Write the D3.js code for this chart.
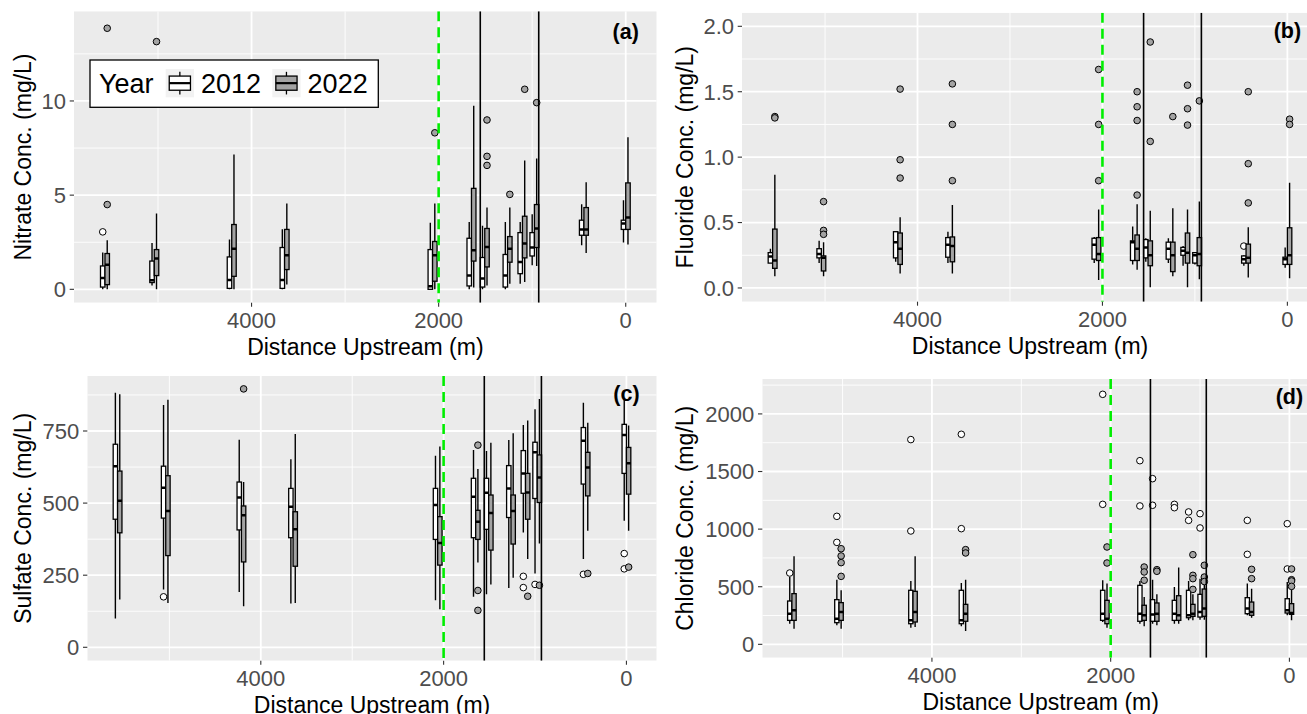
<!DOCTYPE html>
<html lang="en">
<head>
<meta charset="UTF-8">
<title>Upstream concentrations 2012 vs 2022</title>
<script src="https://d3js.org/d3.v7.min.js"></script>
<style>
  body { margin: 0; background: #fff; }
  svg { display: block; font-family: "Liberation Sans", Arial, Helvetica, sans-serif; }
</style>
</head>
<body>
<svg id="chart" width="1307" height="714"></svg>
<script>
// sampling sites (distance upstream, m) and years
const sites = [5567, 5040, 4212, 3647, 2065, 1649, 1507, 1263, 1104, 976, 447, 0];
const years = ["2012", "2022"];
const dodgeWidth = 96;            // total dodge width in metres
const refLines = [1555, 930];     // black vertical lines
const greenLine = 2000;           // dashed green line
const xTicks = [4000, 2000, 0];

// box stats per site: [lower whisker, q1, median, q3, upper whisker]
const nitrate2012 = [[0,0.12,0.6,1.24,1.95],[0.2,0.36,0.48,1.5,2.46],[0,0.05,0.5,1.72,2.64],[0,0.05,0.5,2.22,3.19],
  [0,0,0.16,2.11,3.53],[0,0.18,0.73,2.71,3.58],[0,0.12,0.57,1.69,3.37],[0,0.12,0.73,1.85,3.58],
  [0.3,0.83,1.45,3.01,3.58],[1.28,1.77,2.22,3.01,3.99],[2.34,2.87,3.18,3.67,4.52],[2.48,3.18,3.49,3.67,4.73]];
const nitrate2022 = [[0,0.25,1.31,1.9,2.6],[0,0.73,1.63,2.11,4.03],[0,0.69,2.16,3.44,7.16],[0.25,1.05,1.81,3.18,4.56],
  [0,0.43,1.81,2.54,4.56],[0.1,1.5,2.07,5.36,9.75],[0.2,1.19,2.25,3.23,4.34],[0.3,1.44,2.16,2.8,4.34],
  [0.39,1.67,2.43,3.88,6.84],[1.24,2.22,3.23,4.5,6.95],[1.93,2.87,3.18,4.34,5.68],[2.38,3.18,3.81,5.65,8.07]];
const nitrateOut2012 = [[3.05],[],[],[],[],[],[],[],[],[],[],[]];
const nitrateOut2022 = [[4.5,13.86],[13.15],[],[],[8.31],[],[8.99,7.06,6.58],[5.04],[10.62],[9.91],[],[]];

const fluoride2012 = [[0.19,0.19,0.24,0.27,0.30],[0.19,0.23,0.26,0.30,0.36],[0.20,0.23,0.35,0.43,0.43],[0.19,0.235,0.33,0.385,0.43],
  [0.19,0.22,0.33,0.38,0.39],[0.18,0.21,0.35,0.36,0.47],[0.20,0.23,0.31,0.37,0.38],[0.19,0.22,0.30,0.35,0.38],
  [0.17,0.25,0.285,0.31,0.32],[0.18,0.19,0.25,0.27,0.275],[0.17,0.19,0.22,0.245,0.25],[0.155,0.18,0.22,0.235,0.31]];
const fluoride2022 = [[0.09,0.15,0.21,0.45,0.865],[0.09,0.13,0.23,0.245,0.35],[0.11,0.18,0.30,0.42,0.54],[0.11,0.20,0.32,0.39,0.635],
  [0.06,0.21,0.26,0.385,0.60],[0.14,0.21,0.30,0.405,0.64],[0.005,0.17,0.25,0.36,0.59],[0.09,0.125,0.25,0.35,0.61],
  [0.005,0.19,0.27,0.42,0.60],[0.067,0.17,0.26,0.385,0.66],[0.08,0.19,0.23,0.335,0.465],[0.074,0.18,0.25,0.46,0.805]];
const fluorideOut2012 = [[],[],[],[],[],[],[],[],[],[],[0.32],[]];
const fluorideOut2022 = [[1.31,1.30],[0.66,0.44,0.41],[1.52,0.98,0.84],[1.56,1.25,0.82],[1.67,1.25,0.82],[1.50,1.385,1.28,0.71],
  [1.88,1.12],[1.31],[1.55,1.37,1.245],[1.43],[1.50,0.95,0.65],[1.29,1.25]];

const sulfate2012 = [[100,444,628,704,883],[200,448,553,628,840],[192,407,519,573,720],[152,380,487,551,652],
  [163,374,493,551,664],[175,380,522,586,684],[184,409,536,586,681],[206,450,551,630,719],
  [398,534,603,682,771],[256,516,676,711,825],[306,566,716,762,848],[439,603,736,773,858]];
const sulfate2022 = [[166,397,508,611,877],[154,318,473,595,858],[142,296,458,490,573],[154,281,409,470,740],
  [132,285,362,453,696],[294,374,435,475,618],[218,337,466,528,709],[241,358,473,528,742],
  [306,444,537,603,786],[360,502,589,667,861],[404,525,623,676,779],[404,531,638,693,769]];
const sulfateOut2012 = [[],[175],[],[],[],[],[],[],[246,207],[218],[253],[325,272]];
const sulfateOut2022 = [[],[],[896],[],[],[701,197,128],[],[],[177],[215],[256],[278]];

const chloride2012 = [[179,208,266,376,584],[165,188,223,388,561],[145,179,208,469,550],[156,179,208,469,532],
  [194,208,266,469,556],[179,200,266,512,550],[179,200,260,388,561],[179,208,266,382,498],
  [208,231,252,469,550],[214,237,281,434,570],[252,266,310,405,527],[252,272,295,396,541]];
const chloride2022 = [[136,208,295,440,764],[136,208,281,362,469],[150,194,281,460,764],[116,200,266,347,561],
  [145,179,223,382,527],[156,208,252,339,411],[165,200,266,359,434],[179,208,252,422,666],
  [208,243,266,347,434],[214,243,310,480,520],[231,252,281,367,483],[208,260,272,353,520]];
const chlorideOut2012 = [[619],[1111,885],[1777,984],[1823,1004],[2170,1215],[1594,1201],[1438,1207],[1215,1186],
  [1149,1076],[1134,1010],[1076,781],[1047,654]];
const chlorideOut2022 = [[],[830,767,709,590],[],[822,793],[845,706],[671,628,556],[648,634],[],
  [778,599,570,477],[686,584,545],[651,570],[654,561,550,503]];

// panel layout (pixels) and scales
const panels = [
  { tag: "(a)", yTitle: "Nitrate Conc. (mg/L)", left: 74, top: 11.3, right: 656.7, bottom: 302.7, titleX: 22.5,
    yDomain: [-0.71, 14.76], yTicks: [0, 5, 10], tagY: 13.7, stats: [nitrate2012, nitrate2022], outs: [nitrateOut2012, nitrateOut2022], legend: true },
  { tag: "(b)", yTitle: "Fluoride Conc. (mg/L)", left: 742, top: 12.7, right: 1318, bottom: 301.7, titleX: 684.5,
    yDomain: [-0.105, 2.104], yTicks: [0, 0.5, 1, 1.5, 2], yFmt: d3.format(".1f"), tagY: 1.97, stats: [fluoride2012, fluoride2022], outs: [fluorideOut2012, fluorideOut2022] },
  { tag: "(c)", yTitle: "Sulfate Conc. (mg/L)", left: 87.3, top: 376, right: 656.7, bottom: 660.7, titleX: 22.5,
    yDomain: [-46.5, 940.7], yTicks: [0, 250, 500, 750], tagY: 881, stats: [sulfate2012, sulfate2022], outs: [sulfateOut2012, sulfateOut2022] },
  { tag: "(d)", yTitle: "Chloride Conc. (mg/L)", left: 762.3, top: 379, right: 1319, bottom: 657.7, titleX: 684.5,
    yDomain: [-116, 2303], yTicks: [0, 500, 1000, 1500, 2000], tagY: 2147, stats: [chloride2012, chloride2022], outs: [chlorideOut2012, chlorideOut2022] }
];

const fills = { "2012": "#ffffff", "2022": "#a3a3a3" };
const svg = d3.select("#chart");

// x domain: site extent plus box widths, then 5% expansion like ggplot
const xMin = d3.min(sites) - dodgeWidth / 2, xMax = d3.max(sites) + dodgeWidth / 2;
const pad = (xMax - xMin) * 0.05;
const xDomain = [xMax + pad, xMin - pad];

function minorBreaks(major, domain) {
  const step = major[1] - major[0];
  const out = [];
  for (let v = major[0] - step / 2; v <= domain[1]; v += step) {
    if (v >= domain[0]) out.push(v);
  }
  return out;
}

panels.forEach((p, pi) => {
  const x = d3.scaleLinear().domain(xDomain).range([p.left, p.right]);
  const y = d3.scaleLinear().domain(p.yDomain).range([p.bottom, p.top]);
  const g = svg.append("g");

  const clipId = "clip" + pi;
  svg.append("clipPath").attr("id", clipId)
    .append("rect").attr("x", p.left).attr("y", p.top)
    .attr("width", p.right - p.left).attr("height", p.bottom - p.top);

  const plot = g.append("g").attr("clip-path", `url(#${clipId})`);
  plot.append("rect").attr("x", p.left).attr("y", p.top)
    .attr("width", p.right - p.left).attr("height", p.bottom - p.top).attr("fill", "#ebebeb");

  // grid
  const xMinor = minorBreaks([0, 2000], [xDomain[1], xDomain[0]]);
  plot.selectAll(".ymin").data(minorBreaks(p.yTicks, p.yDomain)).enter().append("line")
    .attr("x1", p.left).attr("x2", p.right).attr("y1", d => y(d)).attr("y2", d => y(d))
    .attr("stroke", "#fff").attr("stroke-width", 0.9);
  plot.selectAll(".xmin").data(xMinor).enter().append("line")
    .attr("y1", p.top).attr("y2", p.bottom).attr("x1", d => x(d)).attr("x2", d => x(d))
    .attr("stroke", "#fff").attr("stroke-width", 0.9);
  plot.selectAll(".ymaj").data(p.yTicks).enter().append("line")
    .attr("x1", p.left).attr("x2", p.right).attr("y1", d => y(d)).attr("y2", d => y(d))
    .attr("stroke", "#fff").attr("stroke-width", 1.8);
  plot.selectAll(".xmaj").data(xTicks).enter().append("line")
    .attr("y1", p.top).attr("y2", p.bottom).attr("x1", d => x(d)).attr("x2", d => x(d))
    .attr("stroke", "#fff").attr("stroke-width", 1.8);

  // boxes
  const halfW = Math.abs(x(0) - x(dodgeWidth / 4));
  years.forEach((yr, j) => {
    const offset = j === 0 ? dodgeWidth / 4 : -dodgeWidth / 4;
    sites.forEach((s, i) => {
      const [lo, q1, md, q3, hi] = p.stats[j][i];
      const cx = x(s + offset);
      plot.append("line").attr("x1", cx).attr("x2", cx).attr("y1", y(hi)).attr("y2", y(q3))
        .attr("stroke", "#000").attr("stroke-width", 1.4);
      plot.append("line").attr("x1", cx).attr("x2", cx).attr("y1", y(q1)).attr("y2", y(lo))
        .attr("stroke", "#000").attr("stroke-width", 1.4);
      plot.append("rect").attr("x", cx - halfW).attr("y", y(q3))
        .attr("width", halfW * 2).attr("height", Math.max(0, y(q1) - y(q3)))
        .attr("fill", fills[yr]).attr("stroke", "#000").attr("stroke-width", 1.3);
      plot.append("line").attr("x1", cx - halfW).attr("x2", cx + halfW).attr("y1", y(md)).attr("y2", y(md))
        .attr("stroke", "#000").attr("stroke-width", 2.5);
      p.outs[j][i].forEach(v => {
        plot.append("circle").attr("cx", cx).attr("cy", y(v)).attr("r", 3.3)
          .attr("fill", fills[yr]).attr("stroke", "#000").attr("stroke-width", 1);
      });
    });
  });

  // reference lines
  plot.append("line").attr("x1", x(greenLine)).attr("x2", x(greenLine)).attr("y1", p.top).attr("y2", p.bottom)
    .attr("stroke", "#00ee00").attr("stroke-width", 2.6).attr("stroke-dasharray", "10,6");
  plot.selectAll(".ref").data(refLines).enter().append("line")
    .attr("x1", d => x(d)).attr("x2", d => x(d)).attr("y1", p.top).attr("y2", p.bottom)
    .attr("stroke", "#000").attr("stroke-width", 1.6);

  // panel tag
  plot.append("text").attr("x", x(0)).attr("y", y(p.tagY)).attr("dy", "0.35em")
    .attr("text-anchor", "middle").attr("font-weight", "bold").attr("font-size", 21.5).text(p.tag);

  // axes
  const fmt = p.yFmt || d3.format("d");
  g.selectAll(".yt").data(p.yTicks).enter().append("line")
    .attr("x1", p.left - 4.3).attr("x2", p.left).attr("y1", d => y(d)).attr("y2", d => y(d))
    .attr("stroke", "#333").attr("stroke-width", 1.1);
  g.selectAll(".yl").data(p.yTicks).enter().append("text")
    .attr("x", p.left - 8).attr("y", d => y(d)).attr("dy", "0.36em")
    .attr("text-anchor", "end").attr("fill", "#4d4d4d").attr("font-size", 22).text(fmt);
  g.selectAll(".xt").data(xTicks).enter().append("line")
    .attr("x1", d => x(d)).attr("x2", d => x(d)).attr("y1", p.bottom).attr("y2", p.bottom + 4)
    .attr("stroke", "#333").attr("stroke-width", 1.1);
  g.selectAll(".xl").data(xTicks).enter().append("text")
    .attr("x", d => x(d)).attr("y", p.bottom + 25)
    .attr("text-anchor", "middle").attr("fill", "#4d4d4d").attr("font-size", 22).text(d3.format("d"));

  g.append("text").attr("x", (p.left + p.right) / 2).attr("y", p.bottom + 52)
    .attr("text-anchor", "middle").attr("font-size", 23).attr("fill", "#000").text("Distance Upstream (m)");
  g.append("text")
    .attr("transform", `translate(${p.titleX},${(p.top + p.bottom) / 2}) rotate(-90)`)
    .attr("dy", "0.35em").attr("text-anchor", "middle").attr("font-size", 23).attr("fill", "#000")
    .text(p.yTitle);

  // legend inside panel (a)
  if (p.legend) {
    const lg = g.append("g").attr("transform", `translate(${p.left + 16},${p.top + 48.7})`);
    lg.append("rect").attr("width", 288.3).attr("height", 47.3)
      .attr("fill", "#fff").attr("stroke", "#000").attr("stroke-width", 1.3);
    lg.append("text").attr("x", 9).attr("y", 32.5).attr("font-size", 27).text("Year");
    const k = 28.3;
    years.forEach((yr, j) => {
      const kx = 75.7 + j * 106.6, ky = 9;
      lg.append("rect").attr("x", kx).attr("y", ky).attr("width", k).attr("height", k).attr("fill", "#f2f2f2");
      lg.append("line").attr("x1", kx + k / 2).attr("x2", kx + k / 2).attr("y1", ky + k * 0.1).attr("y2", ky + k * 0.9)
        .attr("stroke", "#000").attr("stroke-width", 1.3);
      lg.append("rect").attr("x", kx + k * 0.125).attr("y", ky + k * 0.25)
        .attr("width", k * 0.75).attr("height", k * 0.5)
        .attr("fill", fills[yr]).attr("stroke", "#000").attr("stroke-width", 1.3);
      lg.append("line").attr("x1", kx + k * 0.125).attr("x2", kx + k * 0.875).attr("y1", ky + k / 2).attr("y2", ky + k / 2)
        .attr("stroke", "#000").attr("stroke-width", 2.2);
      lg.append("text").attr("x", kx + k + 7).attr("y", 32.5).attr("font-size", 27).text(yr);
    });
  }
});
</script>
</body>
</html>
